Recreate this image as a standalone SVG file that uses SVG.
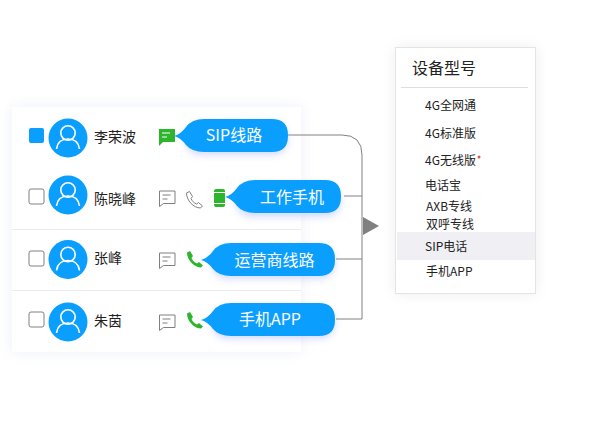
<svg xmlns="http://www.w3.org/2000/svg" width="606" height="441" viewBox="0 0 606 441">
<style>
text{font-family:"Noto Sans CJK SC","Noto Sans",sans-serif}
.name{font-size:14px;fill:#222}
.pill{font-size:16px;fill:#fff;text-anchor:middle}
.item{font-size:12px;fill:#222}
.cb{fill:#fff;stroke:#808080;stroke-width:1}
.ico{fill:none;stroke:#7f7f7f;stroke-width:1}
.conn{fill:none;stroke:#808080;stroke-width:1}
.g{fill:#2db52d}
.b{fill:#0a9eff}
</style>
<defs>
<filter id="s" x="-20%" y="-20%" width="140%" height="140%"><feGaussianBlur stdDeviation="7"/></filter>
<filter id="p" x="-20%" y="-40%" width="140%" height="200%"><feGaussianBlur stdDeviation="3.5"/></filter>
<g id="user"><circle cx="0" cy="0" r="19.5" class="b"/><circle cx="0" cy="-5" r="7.2" fill="none" stroke="#fff" stroke-width="1.6"/><path d="M-11.5 11C-10.5 3 -5 1 0 1C5 1 10.500 3 11.500 11" fill="none" stroke="#fff" stroke-width="1.6"/></g>
<path id="msg" d="M0 0H15.500V12.500H4L0 15.500Z M3 4H11 M3 8H8"/>
<path id="phone" d="M0 1.500L3 0L6 5L4.500 7C5.500 9.500 7.500 11.500 10 12.500L12 11L16 14.500L14 16.500C7 16.500 0 9 0 1.500Z"/>
</defs>
<rect width="606" height="441" fill="#fff"/>
<rect x="12" y="107" width="289" height="245" fill="#dfe3f2" opacity=".55" filter="url(#s)"/>
<rect x="12" y="107" width="289" height="245" fill="#fff"/>
<rect x="396" y="48" width="139" height="245" fill="#ccc" opacity=".4" filter="url(#s)"/>
<g id="connectors">
<path class="conn" d="M287 135H342Q362 135 362 155V319H336"/>
<path class="conn" d="M344 196H362"/>
<path class="conn" d="M336 259H362"/>
<path d="M363 217L379 226L363 235Z" fill="#808080"/>
</g>
<line x1="12" y1="229.500" x2="301" y2="229.500" stroke="#ececec"/>
<line x1="12" y1="290.500" x2="301" y2="290.500" stroke="#ececec"/>
<g id="row1">
<rect x="29" y="128" width="15" height="15" rx="2" class="b"/>
<use href="#user" x="68" y="138"/>
<text x="94" y="142" class="name">李荣波</text>
<path class="g" d="M159 129H175V142H163L159 146Z"/><path d="M162 133H170M162 137H167" stroke="#fff" fill="none"/>
</g>
<g id="pill1">
<rect x="185" y="120" width="103" height="32" rx="15" fill="#b9c4fa" opacity=".6" filter="url(#p)" transform="translate(0 3)"/>
<path class="b" d="M174 136Q181 134 186 127Q192 119 204 119H272Q288 119 288 135V136Q288 152 272 152H204Q192 152 186 145Q181 138 174 136Z"/>
<text x="234" y="141" class="pill">SIP线路</text>
</g>
<g id="row2">
<rect x="29" y="189" width="15" height="15" rx="2" class="cb"/>
<use href="#user" x="68" y="195"/>
<text x="94" y="204" class="name">陈晓峰</text>
<use href="#msg" x="159.500" y="191" class="ico"/>
<use href="#phone" x="186.500" y="191.500" class="ico"/>
<rect x="214" y="189" width="11" height="18" rx="2" class="g"/><path d="M214 192.500H225M214 203.500H225" stroke="#fff"/>
</g>
<g id="pill2">
<rect x="236" y="181" width="105" height="33" rx="15" fill="#b9c4fa" opacity=".6" filter="url(#p)" transform="translate(0 3)"/>
<path class="b" d="M225 197Q232 195 237 188Q243 180 255 180H325Q341 180 341 196V197Q341 213 325 213H255Q243 213 237 206Q232 199 225 197Z"/>
<text x="292" y="203" class="pill">工作手机</text>
</g>
<g id="row3">
<rect x="29" y="251" width="15" height="15" rx="2" class="cb"/>
<use href="#user" x="68" y="259.500"/>
<text x="94" y="263" class="name">张峰</text>
<use href="#msg" x="159.500" y="253" class="ico"/>
<use href="#phone" x="187" y="251" class="g"/>
</g>
<g id="pill3">
<rect x="212" y="244" width="123" height="32" rx="15" fill="#b9c4fa" opacity=".6" filter="url(#p)" transform="translate(0 3)"/>
<path class="b" d="M201 260Q208 258 213 251Q219 243 231 243H319Q335 243 335 259V260Q335 276 319 276H231Q219 276 213 269Q208 262 201 260Z"/>
<text x="274.500" y="266" class="pill">运营商线路</text>
</g>
<g id="row4">
<rect x="29" y="312" width="15" height="15" rx="2" class="cb"/>
<use href="#user" x="68" y="322"/>
<text x="94" y="326" class="name">朱茵</text>
<use href="#msg" x="159.500" y="315" class="ico"/>
<use href="#phone" x="187" y="312" class="g"/>
</g>
<g id="pill4">
<rect x="212" y="304" width="123" height="32" rx="15" fill="#b9c4fa" opacity=".6" filter="url(#p)" transform="translate(0 3)"/>
<path class="b" d="M201 320Q208 318 213 311Q219 303 231 303H319Q335 303 335 319V320Q335 336 319 336H231Q219 336 213 329Q208 322 201 320Z"/>
<text x="270" y="325" class="pill">手机APP</text>
</g>
<g id="device-panel">
<rect x="395.500" y="47.500" width="140" height="246" fill="#fff" stroke="#e4e4e4"/>
<text x="412" y="74" font-size="16" fill="#222">设备型号</text>
<line x1="401" y1="87.500" x2="528" y2="87.500" stroke="#dedede"/>
<rect x="397" y="232" width="138" height="28" fill="#efeff4"/>
<text x="425" y="110" class="item">4G全网通</text>
<text x="425" y="138" class="item">4G标准版</text>
<text x="425" y="165" class="item">4G无线版</text>
<circle cx="479" cy="157" r="1.500" fill="#e0563c"/>
<text x="425" y="190" class="item">电话宝</text>
<text x="426" y="211" class="item">AXB专线</text>
<text x="426" y="229" class="item">双呼专线</text>
<text x="425" y="251" class="item">SIP电话</text>
<text x="426" y="276" class="item">手机APP</text>
</g>
</svg>
